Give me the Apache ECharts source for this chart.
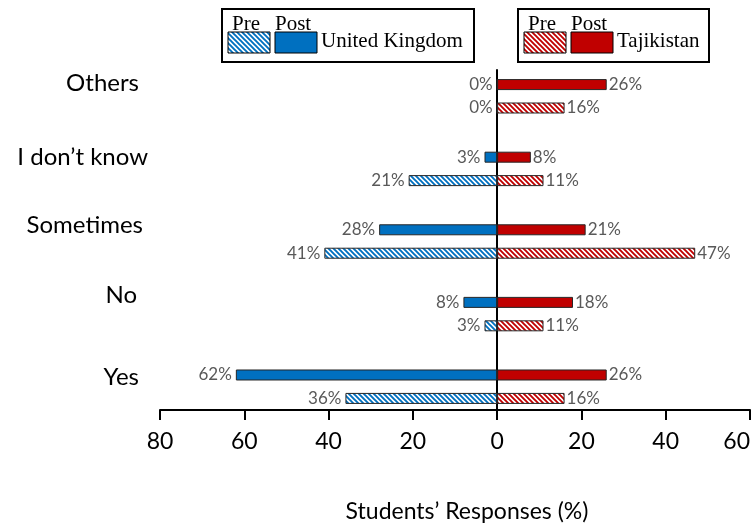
<!DOCTYPE html>
<html><head><meta charset="utf-8">
<script src="https://cdn.jsdelivr.net/npm/echarts@6.0.0/dist/echarts.min.js"></script>
<style>html,body{margin:0;padding:0;background:#fff}#c{width:753px;height:529px}</style>
</head><body><div id="c"></div>
<script>
// ---- data ----
const categories = ['Yes', 'No', 'Sometimes', 'I don\u2019t know', 'Others'];
const ukPre  = [36, 3, 41, 21, 0];
const ukPost = [62, 8, 28, 3, 0];
const tjPre  = [16, 11, 47, 11, 16];
const tjPost = [26, 18, 21, 8, 26];
const xMin = -80, xMax = 60, xStep = 20;
const axisTitle = 'Students\u2019 Responses (%)';
const legendUK = 'United Kingdom', legendTJ = 'Tajikistan';
const legendPre = 'Pre', legendPost = 'Post';

// ---- layout ----
const catLabelPos = [[139, 377], [137, 295], [143, 225], [148, 157], [139, 83]];
const BLUE = '#0070C0', RED = '#C00000', BORDER = '#262626', LABEL = '#595959';
const SANS = 'Lato, "Open Sans", sans-serif';
const SERIF = '"Liberation Serif", "DejaVu Serif", serif';

function hatch(color) {
  const s = 5;
  const c = document.createElement('canvas');
  c.width = s; c.height = s;
  const g = c.getContext('2d');
  g.fillStyle = '#fff'; g.fillRect(0, 0, s, s);
  g.strokeStyle = color; g.lineWidth = 1.9;
  g.beginPath();
  for (const k of [-s, 0, s]) { g.moveTo(k - 1, -1); g.lineTo(k + s + 1, s + 1); }
  g.stroke();
  return c;
}
const bluePat = { image: hatch(BLUE), repeat: 'repeat' };
const redPat = { image: hatch(RED), repeat: 'repeat' };

const pct = p => Math.abs(p.value) + '%';
function barSeries(name, stack, vals, sign, fill, pos) {
  return {
    type: 'bar', name, stack, xAxisIndex: 0, yAxisIndex: 0,
    data: vals.map(v => sign * v),
    barWidth: 11, barGap: '113%',
    itemStyle: { color: fill, borderColor: BORDER, borderWidth: 1 },
    label: { show: true, position: pos, distance: pos === 'left' ? 4 : 2, formatter: pct,
             color: LABEL, fontSize: 17, fontFamily: SANS },
    emphasis: { disabled: true }
  };
}

const graphics = [];
categories.forEach((c, i) => {
  graphics.push({ type: 'text', x: catLabelPos[i][0], y: catLabelPos[i][1],
    style: { text: c, fill: '#000', font: '24px ' + SANS, textAlign: 'right', textVerticalAlign: 'middle' } });
});
graphics.push({ type: 'text', x: 467, y: 512,
  style: { text: axisTitle, fill: '#000', font: '23px ' + SANS, textAlign: 'center', textVerticalAlign: 'middle' } });

function legendBox(x0, w, pat, solid, label) {
  graphics.push({ type: 'rect', shape: { x: x0, y: 9, width: w, height: 53 },
    style: { fill: '#fff', stroke: '#000', lineWidth: 2 } });
  graphics.push({ type: 'text', x: x0 + 10, y: 24, style: { text: legendPre, fill: '#000', font: '21px ' + SERIF, textVerticalAlign: 'middle' } });
  graphics.push({ type: 'text', x: x0 + 53, y: 24, style: { text: legendPost, fill: '#000', font: '21px ' + SERIF, textVerticalAlign: 'middle' } });
  graphics.push({ type: 'rect', shape: { x: x0 + 6, y: 32, width: 42, height: 21 },
    style: { fill: pat, stroke: '#000', lineWidth: 1 } });
  graphics.push({ type: 'rect', shape: { x: x0 + 53, y: 32, width: 42, height: 21 },
    style: { fill: solid, stroke: '#000', lineWidth: 1 } });
  graphics.push({ type: 'text', x: x0 + 99, y: 41, style: { text: label, fill: '#000', font: '21px ' + SERIF, textVerticalAlign: 'middle' } });
}
legendBox(222, 252, bluePat, BLUE, legendUK);
legendBox(518, 191, redPat, RED, legendTJ);

const chart = echarts.init(document.getElementById('c'), null, { renderer: 'canvas' });
chart.setOption({
  animation: false,
  backgroundColor: '#fff',
  grid: [
    { left: 160, right: 3, top: 60, bottom: 106 },
    { left: 160, right: 3, top: 70, bottom: 119 }
  ],
  xAxis: [
    { gridIndex: 0, type: 'value', min: xMin, max: xMax, interval: xStep, show: false, splitLine: { show: false } },
    { gridIndex: 1, type: 'value', min: xMin, max: xMax, interval: xStep, position: 'bottom',
      axisLine: { show: true, onZero: false, lineStyle: { color: '#000', width: 2 } },
      axisTick: { show: true, inside: false, length: 10, lineStyle: { color: '#000', width: 2 } },
      axisLabel: { formatter: v => String(Math.abs(v)), color: '#000', fontSize: 23, fontFamily: SANS, margin: 20, alignMaxLabel: 'right' },
      splitLine: { show: false } }
  ],
  yAxis: [
    { gridIndex: 0, type: 'category', data: categories, show: false },
    { gridIndex: 1, type: 'value', min: 0, max: 1,
      axisLine: { show: true, onZero: true, lineStyle: { color: '#000', width: 2 } },
      axisTick: { show: false }, axisLabel: { show: false }, splitLine: { show: false } }
  ],
  series: [
    barSeries('UK Post', 'post', ukPost, -1, BLUE, 'left'),
    barSeries('UK Pre', 'pre', ukPre, -1, bluePat, 'left'),
    barSeries('TJ Post', 'post', tjPost, 1, RED, 'right'),
    barSeries('TJ Pre', 'pre', tjPre, 1, redPat, 'right')
  ],
  graphic: graphics
});
</script></body></html>
